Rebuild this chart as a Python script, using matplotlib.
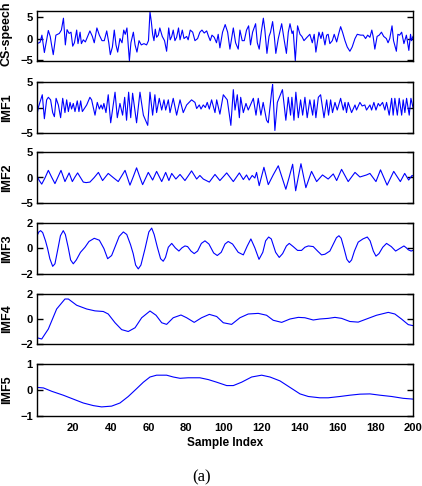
import matplotlib
matplotlib.use('Agg')
import matplotlib.pyplot as plt

# values (sample index, amplitude) at the visible vertices
speech_n = [1, 2.6, 3.6, 4.9, 7, 8, 8.6, 9.6, 11, 12.8,
            13.9, 15, 16, 16.9, 18, 19, 19.9, 20.8, 22, 22.7,
            23.8, 24.5, 25.5, 26.6, 27.6, 29, 30.3, 31.3, 32.7, 34,
            35.4, 36.6, 37.9, 39, 39.8, 40.9, 41.9, 42.8, 43.7, 44.9,
            46, 46.9, 47.7, 48.6, 49.9, 50.7, 52, 52.9, 53.9, 55,
            56.2, 57.6, 59, 60, 60.8, 61.5, 62.2, 62.9, 63.6, 64.3,
            65.2, 66, 67.3, 68.5, 69.6, 70.7, 71.5, 72.3, 73.1, 74,
            74.9, 75.9, 76.7, 77.9, 78.8, 80.2, 81, 82.1, 83.4, 84.6,
            86, 87.2, 88.3, 89.5, 90.8, 91.8, 92.7, 93.6, 94.8, 96,
            96.9, 97.8, 99.2, 100.6, 101.9, 103.1, 104.4, 104.9, 106.1, 107.5,
            108.4, 109.6, 110.7, 111.9, 113, 114, 115.1, 116.7, 117.6, 118.6,
            119.7, 120.8, 121.6, 122.7, 123.8, 124.6, 125.7, 126.6, 127.4, 128.7,
            130.5, 131.7, 133, 134, 134.9, 136, 136.6, 137.7, 138.9, 140.2,
            141.2, 142.3, 143.7, 145.4, 146.7, 147.7, 148.6, 150.2, 151.3, 152.1,
            153.4, 154.3, 155.1, 156, 157.3, 158.3, 159.6, 160.6, 161.7, 162.7,
            164, 165.2, 166.6, 167.8, 169.3, 170.5, 172.3, 173.7, 174.9, 176,
            177.2, 178.2, 178.9, 179.8, 181, 182.1, 183.3, 184.5, 185.9, 186.8,
            187.7, 188.9, 189.7, 191.2, 192, 192.9, 194, 195.2, 196.5, 197.8,
            198.7, 199.2, 200]
speech_v = [-1.2, -0.9, 0.8, -3.3, 1.9, 0.5, -1.2, -3.8, 0.8, 1.2,
            2, 4.8, -1.5, 2.1, 1.2, 1.5, -1.8, -1, 2, -1.2,
            1.5, -1.2, -0.3, -0.8, 0.3, 1.8, 0.5, -1, 2.5, 0.8,
            -0.5, -0.5, 1.8, -1, -3.8, -2, 2, -1.5, -3.2, 0,
            -1, 2, 1, 2.5, -5.2, -1, 1.5, -1.5, -3.2, -0.5,
            -1.5, -1.2, -1.5, -0.5, 6.3, 4, 1, -0.5, 2.2, 0.3,
            0.8, 2.5, 0.5, -0.5, -3, 2.5, -0.3, 0.5, 2, -0.5,
            0.3, 2.5, -0.3, 2, 0, 0.5, -0.3, 2, 1.5, -0.5,
            0, 1.5, 2, 1.3, 1.8, 0.5, -0.5, 0.8, 0.3, -1,
            1, -2.2, 1.5, 3.3, 1.5, -2.5, 1, 2.5, -1, -2.5,
            2, -0.5, -0.5, 2, 3, -1.5, 1.5, 3.5, -1, -2.5,
            1.5, 4.8, 2, -3.5, 0.5, 1.5, 4, 0.5, -3.5, 0,
            3.5, 0, -3.5, 1.5, 3.5, 1.2, 1.8, -5.2, 3, 1,
            0.5, -0.5, 0.2, 1, -1, 1, -3.2, 1.5, 0, 1.5,
            -1.5, 0.8, 1, -1.2, -0.5, 1, -0.8, 1, 2.8, 1.5,
            -0.5, -2, -3, -2, 0, 1, 0.8, 0.8, 0, 0.8,
            0.3, 2, 0.5, -2.5, 0.5, 0.8, 1.5, 0.5, 0, -1,
            0, 3, -0.5, -3, 1, 0.8, 1.5, -1.2, 0.8, -2.8,
            1, -0.5, 0.5]

imf1_n = [1, 1.7, 3.8, 4.9, 6.1, 7, 8.2, 9.3, 10.2, 11.1,
          12.3, 13.5, 14.6, 15.8, 16.7, 17.6, 18.5, 19.3, 20.2, 21.1,
          22.3, 23.2, 24.1, 25, 26.4, 27.3, 29, 29.9, 31.7, 32.9,
          34, 34.9, 35.7, 36.4, 37.5, 38.7, 40, 42.3, 43.5, 44.9,
          46.3, 47.4, 48.4, 49.5, 50.6, 51.6, 53.7, 55.5, 57.3, 59.6,
          60.8, 62.2, 63.4, 64.3, 65.7, 67, 68.2, 69.1, 70.5, 71.4,
          73.1, 74.9, 76.7, 78.4, 80.2, 82.8, 84.6, 85.5, 86.9, 87.8,
          89, 90.1, 91.1, 92.2, 93.4, 95.2, 96.1, 97.8, 99.6, 101.7,
          103.6, 104.9, 105.8, 107, 108.1, 108.8, 110.2, 111.6, 112.8, 115.5,
          116.9, 118.1, 119.5, 120.7, 122.5, 123.4, 125.3, 125.7, 126.9, 128.2,
          130.9, 132.7, 134, 135.2, 135.9, 137, 138, 139.3, 140.5, 141.6,
          142.8, 144, 145.4, 146.9, 147.7, 148.6, 149.9, 151.1, 152.9, 154.3,
          155.3, 156.4, 157.4, 158.7, 159.9, 161.7, 163.1, 164, 164.8, 165.7,
          167.5, 169.3, 170.1, 171.9, 173.1, 174.5, 175.4, 177.2, 178.1, 179.3,
          180.4, 181.6, 182.5, 183.9, 185.1, 186, 187.4, 188.7, 189.5, 190.4,
          191.7, 192.7, 194, 194.8, 195.7, 196.6, 198, 198.9, 200]
imf1_v = [-1.5, 0, 2.5, -2.2, 1.5, 2, 1.5, -1, -1.8, 1.8,
          0.5, -2, 1.8, -1, 1.5, -0.8, 1, -0.3, 0.8, -0.8,
          1.3, -0.8, 1.3, -0.8, 0, 0.5, 2, 1.5, -1.5, 1,
          -0.3, 0.5, -0.3, 0.8, -1, 2.5, -3, 3, -2, 0.8,
          -1.5, 2, -2.5, 3, -2, 2.8, -3, 3, -1.5, -3.5,
          3, -1.5, 2.5, -1, 1.8, -0.5, 1.5, -0.5, 1.5, -1,
          1.8, -1.5, 1.5, -1, 0.5, 1.5, 1, -0.2, 0.5, -0.3,
          0.5, 0, 1, -0.3, 1.5, -1, 1.5, -1.3, 2.5, 1.5,
          -3.5, 3.5, -0.5, 2.5, -2, 2, -1, 0.8, -0.5, 1.8,
          -1.5, 1.8, -1.5, 1, -2.5, -3, 3.5, 4.5, -4.5, 1,
          3.5, -2.5, 2, -1.5, 2, -2.5, 3, -2, 1.5, -1.5,
          2, -2, 1.5, -1.5, 1.5, -2, 2, 2.5, -2, 1.5,
          -1.5, 1.5, -1, 1, -0.5, 1.8, -0.5, 1, -1, 1,
          -1, 0.5, -0.5, 1, 0.3, 0.5, -0.5, 0.5, -0.5, 1,
          -0.5, 0.8, 0.3, 1, -0.5, 1, -1.5, 1.8, -1.5, 1.8,
          -1.5, 1.8, -1.5, 1.5, -1, 1.8, -1.5, 1.8, 0]

imf2_n = [1, 2.2, 3.5, 5.2, 7, 8.7, 10.5, 12.1, 13.7, 15.8,
          18, 19.7, 21.1, 22.5, 24, 25.5, 27, 29, 31.3, 33.5,
          35.7, 38.7, 41.3, 44, 45.8, 47.6, 50.2, 52, 53.7, 55.3,
          56.9, 59.9, 62.2, 64.3, 67, 69.1, 70.8, 72.3, 74.5, 76.7,
          79.3, 81, 82.8, 85.5, 87.2, 89, 92.2, 95.2, 97.8, 101.4,
          104.9, 108.1, 110.2, 111.9, 113.3, 114.9, 116.3, 117.2, 118.6, 121.1,
          123.4, 126, 128.7, 130.7, 132.7, 134.5, 136.3, 137.9, 139.3, 140.7,
          143.3, 146.3, 149, 152.1, 155.1, 157.8, 159.6, 162.2, 165.7, 169.3,
          171.9, 175.4, 177.2, 180.4, 182.8, 186.3, 189.8, 193.3, 195.6, 197.7,
          199.5, 200]
imf2_v = [0.3, -0.6, -1.3, -0.1, 1.4, 0.1, -1.2, 0.1, 1.4, -0.8,
          0.9, -0.8, 0.1, 0.9, 0, -0.9, -1.0, -0.9, 0, 1.0,
          -0.6, 0.8, 0, -0.8, 0.3, 1.4, -1.5, 0.2, 1.9, 0.2,
          -1.4, 1.0, -0.5, 1.2, -0.8, 1.0, -0.6, 0.8, -0.3, 0.6,
          -0.6, 0.3, 1.3, -0.3, 0.4, -0.3, -0.9, 0.6, -0.6, 0.9,
          -0.8, 0.9, -0.4, 0.5, -0.5, 0.4, -0.1, 1.0, -1.6, 2.0,
          -1.4, 0.5, 2.3, 0, -2.3, 0.1, 2.6, -2.6, 0.1, 2.7,
          -2.0, 1.2, -0.8, 0.5, -0.3, 0.7, -0.6, 1.6, -0.8, 1.0,
          0.1, 0.5, 0.8, -0.8, 1.5, -1.5, 1.2, -0.8, 0.8, -0.5,
          0.4, 0.3]

imf3_n = [1, 2, 2.9, 4, 5.5, 6.6, 7.8, 9.3, 10.5, 12.1,
          13.4, 14.9, 16, 17.5, 18.8, 20.2, 21.8, 24, 26.4, 28.5,
          31.3, 34, 36.4, 38.4, 40.5, 42.5, 44.5, 46.7, 48.5, 50.5,
          51.9, 53.2, 54.6, 56, 58.2, 60.2, 61.7, 63, 64.7, 66.4,
          67.8, 69, 70.5, 72.3, 74.2, 76.1, 77.7, 79.3, 80.7, 82.5,
          84.2, 86, 88, 89.9, 92, 94.5, 96.4, 98.5, 100.5, 102.2,
          104.5, 107.5, 110.2, 112.3, 114.2, 116.3, 118.5, 120.5, 122, 123.6,
          125, 127.3, 129.2, 131, 133, 134.5, 136.6, 138.9, 141, 142.8,
          144.6, 147.2, 149.5, 151.6, 153.4, 156, 158, 159.5, 160.8, 162,
          163.5, 165, 166.3, 167.5, 169, 171, 173.5, 175.8, 177.3, 179,
          180.4, 182, 184, 186, 188.5, 190.8, 193, 195.2, 196.5, 197.5,
          199, 200]
imf3_v = [1.0, 1.3, 1.4, 1.25, 0.6, 0, -0.8, -1.4, -1.2, 0,
          1.0, 1.4, 1.1, 0.1, -0.9, -1.2, -0.9, -0.3, 0.1, 0.55,
          0.8, 0.65, 0.0, -0.8, -0.55, 0.2, 0.95, 1.3, 1.1, 0.3,
          -0.4, -1.3, -1.6, -1.3, 0, 1.3, 1.6, 1.1, 0.1, -0.8,
          -1.0, -0.7, 0.1, 0.4, 0.05, -0.2, 0.05, 0.2, 0.15, -0.2,
          -0.4, -0.2, 0.4, 0.6, 0.35, -0.35, -0.55, -0.3, 0.35, 0.55,
          0.35, -0.3, -0.5, 0.2, 0.75, 0.05, -0.85, -0.3, 0.6, 0.9,
          0.75, -0.3, -0.7, -0.4, 0.2, 0.4, 0.15, -0.15, -0.15, 0.1,
          0.2, 0.15, -0.2, -0.5, -0.45, -0.2, 0.4, 0.85, 1.0, 0.8,
          0, -0.85, -1.1, -0.9, -0.2, 0.5, 0.75, 0.9, 0.6, -0.2,
          -0.6, -0.4, 0.1, 0.4, 0.15, -0.2, 0, 0.2, 0.05, -0.1,
          -0.2, -0.15]

imf4_n = [1, 3.5, 7, 11.4, 15.8, 17.6, 22, 27.3, 31.7, 36.1,
          38.7, 42.3, 45.8, 49.3, 52.9, 56.4, 60.8, 64, 67, 69.6,
          73.1, 77.2, 80.2, 84.2, 88.1, 92.2, 96.1, 99.6, 104, 108.4,
          112.8, 118.1, 122.5, 126, 130.5, 134.9, 139.3, 142.8, 147.2, 150.7,
          155.1, 158.7, 162.2, 166.6, 171, 175.4, 180.7, 186.9, 190.4, 193.9,
          197.5, 200]
imf4_v = [-1.5, -1.6, -0.8, 0.8, 1.6, 1.6, 1.1, 0.8, 0.65, 0.6,
          0.4, -0.3, -0.85, -1.0, -0.7, 0.1, 0.64, 0.3, -0.3, -0.43,
          0.1, 0.32, 0.1, -0.27, 0.1, 0.37, 0.2, -0.3, -0.43, 0.1,
          0.4, 0.45, 0.3, -0.1, -0.27, 0, 0.13, 0.1, -0.08, 0.0,
          0.05, 0.13, 0.05, -0.2, -0.25, 0, 0.3, 0.53, 0.4, 0.0,
          -0.45, -0.53]

imf5_n = [1, 4.4, 8.8, 14.9, 20.2, 25.5, 30.8, 35.2, 40.5, 44.9,
          49.3, 53.7, 57.3, 60.8, 64.3, 69.6, 73.1, 76.7, 81, 87.2,
          91.7, 96.1, 101.4, 104.9, 109.3, 114.6, 119.9, 124.3, 129.6, 134.9,
          140.2, 144.6, 150.7, 155.1, 161.3, 166.6, 171.9, 177.2, 182.5, 188.7,
          194.8, 200]
imf5_v = [0.1, 0.08, -0.05, -0.2, -0.35, -0.5, -0.6, -0.65, -0.62, -0.5,
          -0.25, 0.05, 0.3, 0.5, 0.57, 0.57, 0.5, 0.45, 0.47, 0.47,
          0.4, 0.3, 0.17, 0.17, 0.3, 0.5, 0.57, 0.5, 0.35, 0.1,
          -0.15, -0.25, -0.3, -0.3, -0.25, -0.2, -0.16, -0.15, -0.2, -0.25,
          -0.32, -0.35]

labels = ['CS-speech', 'IMF1', 'IMF2', 'IMF3', 'IMF4', 'IMF5']

plt.rcParams['font.family'] = ['Liberation Sans', 'DejaVu Sans']
plt.rcParams['font.weight'] = 'bold'

W, H = 422, 486
fig = plt.figure(figsize=(W / 100, H / 100), dpi=100)

# pixel rows (top, bottom) of each panel
boxes = [(11, 61), (82, 133), (152, 203), (223, 274), (294, 344), (364, 416)]
series = [(speech_n, speech_v), (imf1_n, imf1_v), (imf2_n, imf2_v),
          (imf3_n, imf3_v), (imf4_n, imf4_v), (imf5_n, imf5_v)]
ylims = [(-5.3, 6.5), (-5, 5), (-5, 5), (-2, 2), (-2, 2), (-1, 1)]
yticks = [[-5, 0, 5], [-5, 0, 5], [-5, 0, 5], [-2, 0, 2], [-2, 0, 2], [-1, 0, 1]]
label_y = [0.55, 0.5, 0.5, 0.5, 0.5, 0.5]

for i in range(6):
    top, bot = boxes[i]
    ax = fig.add_axes([37 / W, 1 - bot / H, 376 / W, (bot - top) / H])
    ax.plot(series[i][0], series[i][1], color='#0000ff', lw=0.8)
    ax.set_xlim(1, 200)
    ax.set_ylim(*ylims[i])
    ax.set_yticks(yticks[i])
    ax.set_xticks(range(20, 201, 20))
    ax.tick_params(axis='y', direction='in', length=4, width=1, right=True,
                   labelsize=8, pad=3)
    ax.tick_params(axis='x', length=0, labelsize=8, pad=5)
    if i < 5:
        ax.set_xticklabels([])
    for s in ax.spines.values():
        s.set_linewidth(1.0)
    ax.set_ylabel(labels[i], fontsize=9, fontweight='bold')
    ax.yaxis.set_label_coords(-0.064, label_y[i])

ax.set_xlabel('Sample Index', fontsize=8.5, fontweight='bold', labelpad=3)

fig.text(202 / W, 1 - 477 / H, '(a)', ha='center', va='center', fontsize=12,
         family='Liberation Serif', fontweight='normal')

fig.savefig('out.png', dpi=100)
